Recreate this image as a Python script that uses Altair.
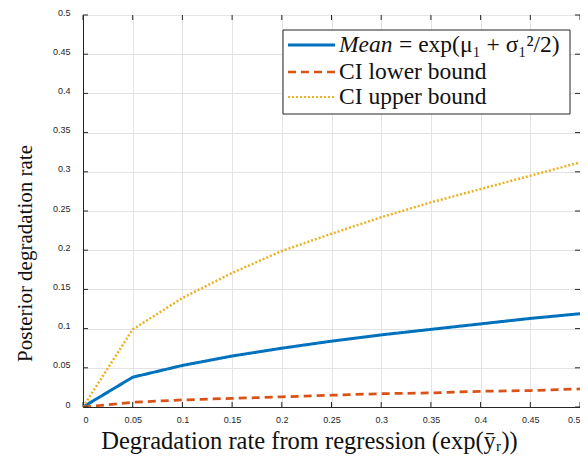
import altair as alt
import pandas as pd

x_vals = [0, 0.05, 0.1, 0.15, 0.2, 0.25, 0.3, 0.35, 0.4, 0.45, 0.5]
mean_vals = [0, 0.038, 0.053, 0.065, 0.075, 0.084, 0.092, 0.099, 0.106, 0.113, 0.119]
lower_vals = [0, 0.006, 0.009, 0.011, 0.013, 0.015, 0.017, 0.018, 0.020, 0.021, 0.023]
upper_vals = [0, 0.099, 0.139, 0.171, 0.199, 0.221, 0.242, 0.261, 0.278, 0.295, 0.312]

series_names = ["Mean = exp(μ₁ + σ₁²/2)", "CI lower bound", "CI upper bound"]
legend_italic = ["Mean", "", ""]
legend_rest = ["= exp(μ₁ + σ₁²/2)", "CI lower bound", "CI upper bound"]
series_colors = ["#0072BD", "#D95319", "#EDB120"]
series_dash = [[1, 0], [8, 5], [2, 2]]
series_width = [3, 2.5, 2]

x_ticks = [0, 0.05, 0.1, 0.15, 0.2, 0.25, 0.3, 0.35, 0.4, 0.45, 0.5]
y_ticks = [0, 0.05, 0.1, 0.15, 0.2, 0.25, 0.3, 0.35, 0.4, 0.45, 0.5]

W, H = 497, 392
SERIF = "Liberation Serif"

rows = []
for name, vals in zip(series_names, [mean_vals, lower_vals, upper_vals]):
    for xv, yv in zip(x_vals, vals):
        rows.append({"x": xv, "y": yv, "series": name})
df = pd.DataFrame(rows)

xscale = alt.Scale(domain=[0, 0.5], nice=False)
yscale = alt.Scale(domain=[0, 0.5], nice=False)

xaxis = alt.Axis(values=x_ticks, format="~g", ticks=False, grid=True, gridColor="#e3e3e3",
                 domainColor="#262626", labelFont="Liberation Sans", labelFontSize=9,
                 labelColor="#262626", labelPadding=8, labelOverlap=False,
                 title="Degradation rate from regression (exp(ȳᵣ))",
                 titleFont=SERIF, titleFontSize=24.5, titleFontWeight="normal",
                 titleColor="#111111", titleX=226, titleY=34, titleBaseline="middle")
yaxis = alt.Axis(values=y_ticks, format="~g", ticks=False, grid=True, gridColor="#e3e3e3",
                 domainColor="#262626", labelFont="Liberation Sans", labelFontSize=9,
                 labelColor="#262626", labelPadding=13, labelOffset=-3, labelOverlap=False,
                 tickCount=11,
                 title="Posterior degradation rate",
                 titleFont=SERIF, titleFontSize=21, titleFontWeight="normal",
                 titleColor="#111111", titleX=-58, titleY=238, titleBaseline="middle")

lines = alt.Chart(df).mark_line(clip=True).encode(
    x=alt.X("x:Q", scale=xscale, axis=xaxis),
    y=alt.Y("y:Q", scale=yscale, axis=yaxis),
    color=alt.Color("series:N", scale=alt.Scale(domain=series_names, range=series_colors), legend=None),
    strokeDash=alt.StrokeDash("series:N", scale=alt.Scale(domain=series_names, range=series_dash), legend=None),
    strokeWidth=alt.StrokeWidth("series:N", scale=alt.Scale(domain=series_names, range=series_width), legend=None),
    order=alt.Order("x:Q"),
)

tick_color = "#262626"
xt = pd.DataFrame({"t": x_ticks})
yt = pd.DataFrame({"t": y_ticks})
tick_bottom = alt.Chart(xt).mark_rule(color=tick_color, strokeWidth=1).encode(
    x=alt.X("t:Q", scale=xscale, axis=xaxis), y=alt.value(H), y2=alt.value(H - 5))
tick_top = alt.Chart(xt).mark_rule(color=tick_color, strokeWidth=1).encode(
    x=alt.X("t:Q", scale=xscale, axis=xaxis), y=alt.value(0), y2=alt.value(5))
tick_left = alt.Chart(yt).mark_rule(color=tick_color, strokeWidth=1).encode(
    y=alt.Y("t:Q", scale=yscale, axis=yaxis), x=alt.value(0), x2=alt.value(5))
tick_right = alt.Chart(yt).mark_rule(color=tick_color, strokeWidth=1).encode(
    y=alt.Y("t:Q", scale=yscale, axis=yaxis), x=alt.value(W), x2=alt.value(W - 5))

# legend
lx0, lx1, ly0, ly1 = 200, 487, 15, 99
legend_box = alt.Chart(pd.DataFrame({"a": [0]})).mark_rect(
    fill="white", stroke="#262626", strokeWidth=1).encode(
    x=alt.value(lx0), x2=alt.value(lx1), y=alt.value(ly0), y2=alt.value(ly1))
legend_layers = [legend_box]
row_y = [30, 57, 82]
for ital, rest, col, dash, wd, ry in zip(legend_italic, legend_rest, series_colors, series_dash,
                                          series_width, row_y):
    d = pd.DataFrame({"ital": [ital], "rest": [rest]})
    legend_layers.append(alt.Chart(d).mark_rule(color=col, strokeDash=dash, strokeWidth=wd).encode(
        x=alt.value(205), x2=alt.value(252), y=alt.value(ry)))
    rest_x = 256
    if ital:
        legend_layers.append(alt.Chart(d).mark_text(
            align="left", baseline="middle", font=SERIF, fontStyle="italic", fontSize=23.5,
            color="#111111").encode(x=alt.value(256), y=alt.value(ry), text="ital:N"))
        rest_x = 316
    legend_layers.append(alt.Chart(d).mark_text(
        align="left", baseline="middle", font=SERIF, fontSize=23.5, color="#111111").encode(
        x=alt.value(rest_x), y=alt.value(ry), text="rest:N"))

chart = alt.layer(lines, tick_bottom, tick_top, tick_left, tick_right, *legend_layers).properties(
    width=W, height=H,
    autosize=alt.AutoSizeParams(type="none"),
    padding={"left": 75, "top": 7, "right": 0, "bottom": 48},
    background="white",
).configure_view(stroke="#262626", strokeWidth=1)

chart.save("out.html", embed_options={"renderer": "svg", "actions": False})
